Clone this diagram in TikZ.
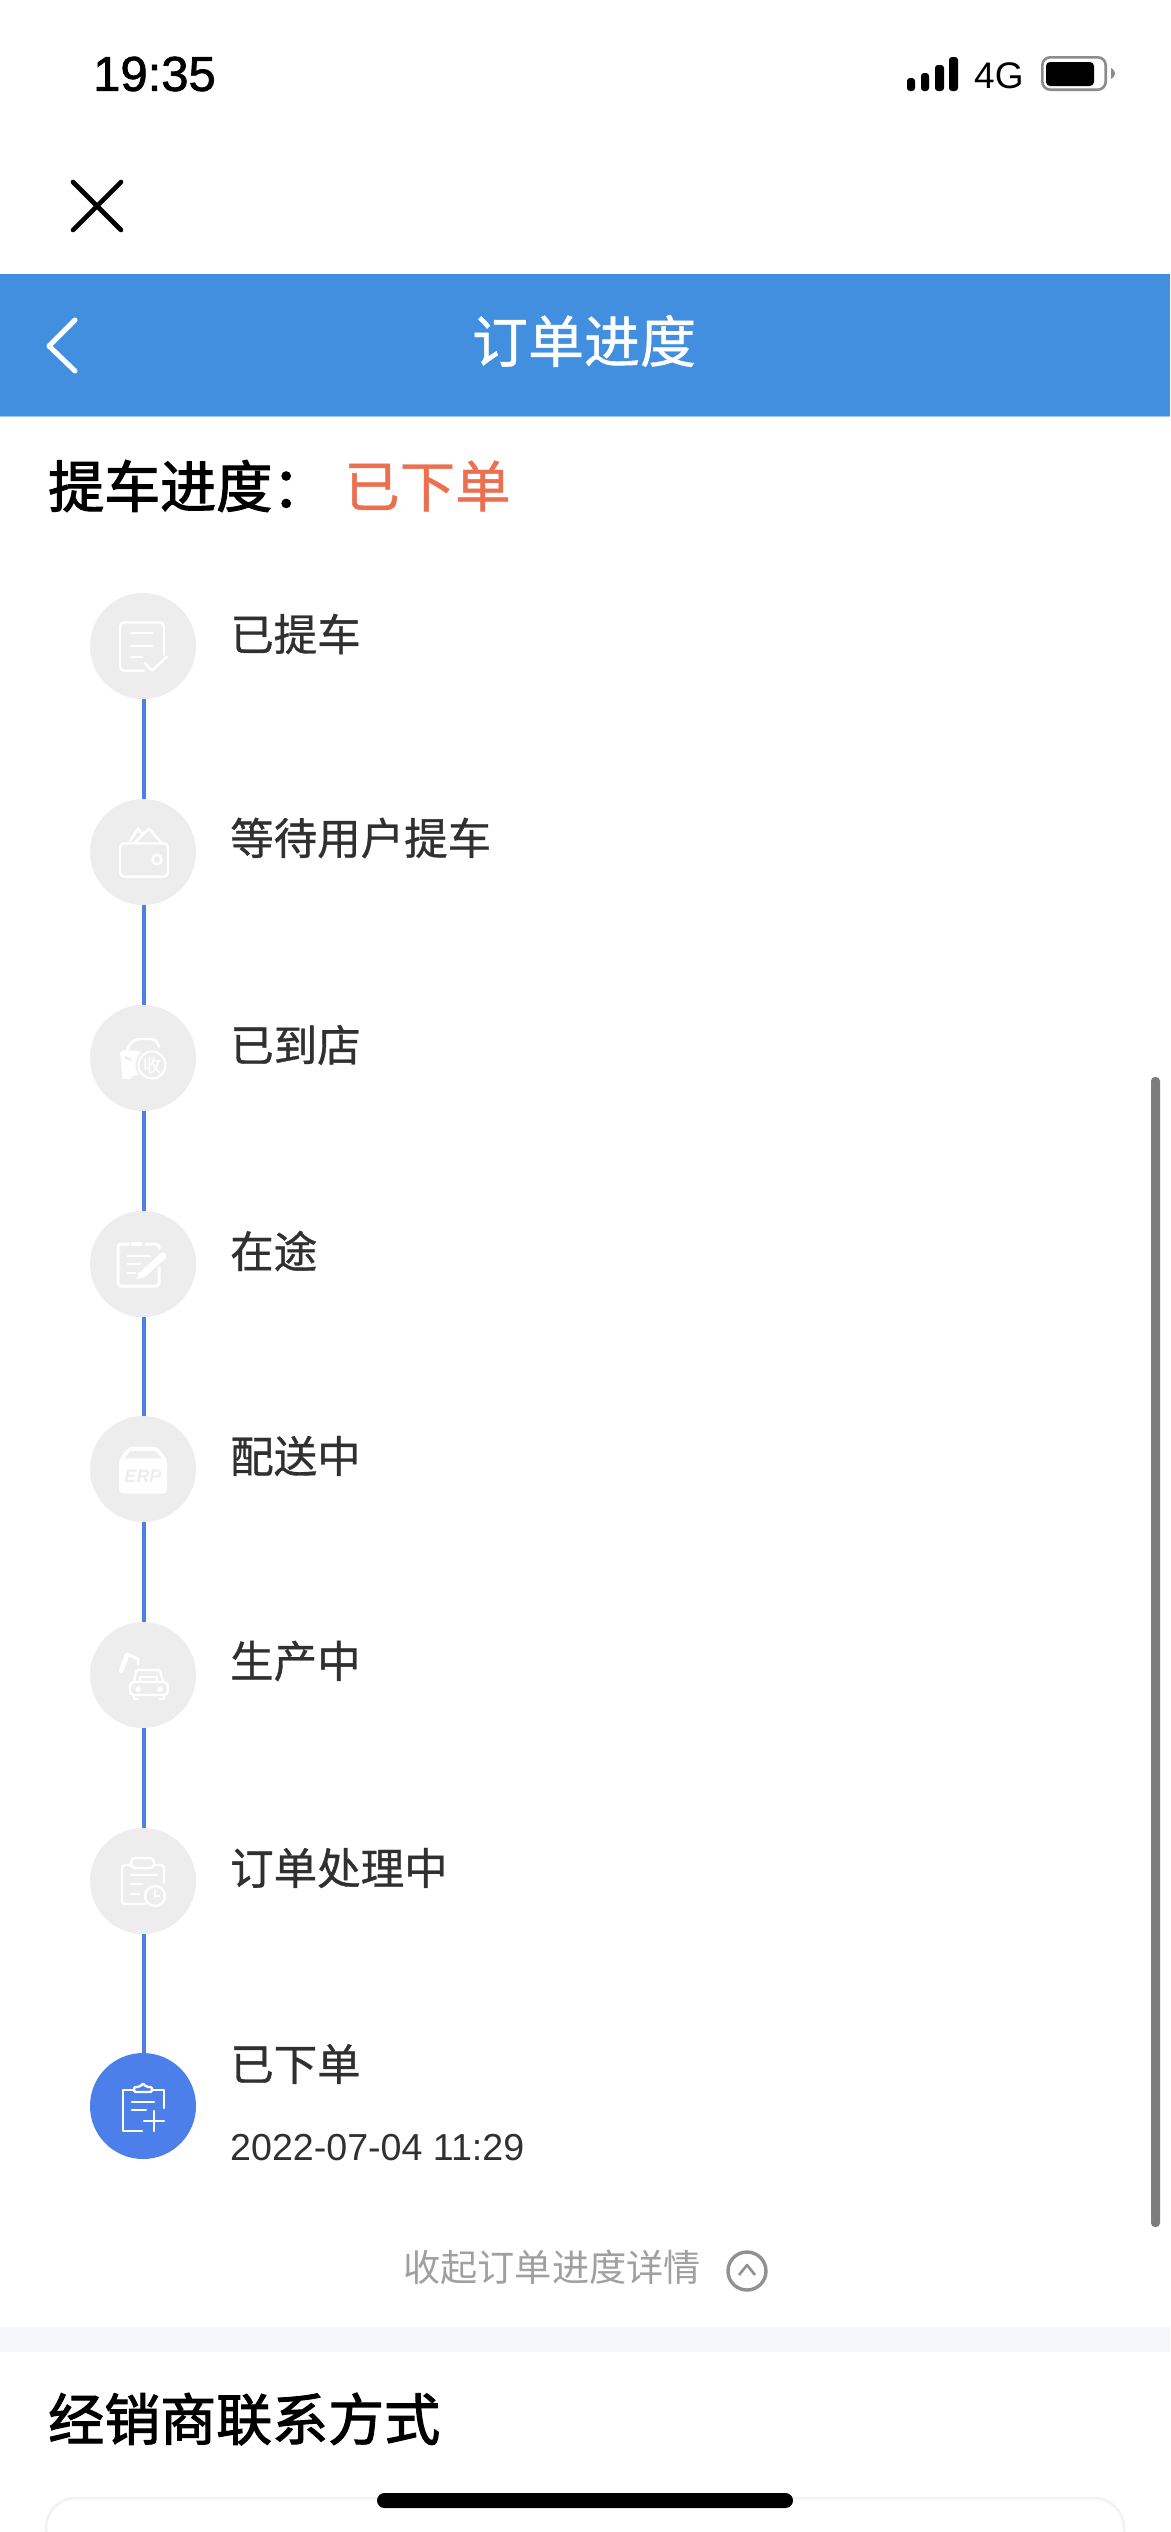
\documentclass[tikz,border=0pt]{standalone}
\usepackage{fontspec}
\setmainfont{Liberation Sans}
\newfontfamily\cjk{Noto Sans CJK SC}
\newfontfamily\cjkmed[FakeBold=0.8]{Noto Sans CJK SC}
\newfontfamily\cjkhead[FakeBold=2]{Noto Sans CJK SC}
\newfontfamily\latsemi[FakeBold=1.5]{Liberation Sans}
\definecolor{hdr}{HTML}{438FDF}
\definecolor{lineblue}{HTML}{4C7FEA}
\definecolor{stepgrey}{HTML}{EDEDED}
\definecolor{txt}{HTML}{303030}
\definecolor{orangered}{HTML}{EC6F50}
\definecolor{mutedgrey}{HTML}{A0A0A0}
\definecolor{band}{HTML}{F5F6FA}
\definecolor{cardline}{HTML}{F2F2F2}
\definecolor{scrollgrey}{HTML}{7D7D7D}
\tikzset{
  x=1pt,y=-1pt,
  stepdot/.style={circle,fill=stepgrey,minimum size=106pt,inner sep=0pt},
  stepactive/.style={circle,fill=lineblue,minimum size=106pt,inner sep=0pt},
  conn/.style={lineblue,line width=3.4pt},
  steplabel/.style={anchor=west,inner sep=0pt,text=txt,font=\fontsize{43.5}{44}\selectfont\cjkmed},
  iconline/.style={white,line width=2.4pt,line cap=round,line join=round,fill=none},
  heading/.style={anchor=west,inner sep=0pt,font=\fontsize{56}{56}\selectfont\cjkhead,text=black},
}
\begin{document}
\begin{tikzpicture}
\useasboundingbox (0,0) rectangle (1170,2532);
\fill[white] (0,0) rectangle (1170,2532);

% status bar
\node[anchor=west,inner sep=0pt,font=\fontsize{49}{49}\selectfont\latsemi] (time) at (93,74) {19:35};
\fill[black,rounded corners=3pt] (907,78) rectangle (915,91);
\fill[black,rounded corners=3pt] (921,73) rectangle (929,91);
\fill[black,rounded corners=3pt] (935,65) rectangle (944,91);
\fill[black,rounded corners=3pt] (949,57) rectangle (958,91);
\node[anchor=west,inner sep=0pt,font=\fontsize{37}{37}\selectfont] (net) at (974,75.5) {4G};
\draw[black!45,line width=2.6pt,rounded corners=8pt] (1042.3,57.3) rectangle (1105.7,89.7);
\fill[black,rounded corners=4pt] (1046,62) rectangle (1094,86);
\fill[black!45] (1111,68) .. controls (1114,70) and (1115,72) .. (1115,73.5) .. controls (1115,75) and (1114,77) .. (1111,79) -- cycle;

% close
\coordinate (xa) at (73,182); \coordinate (xb) at (121,230);
\coordinate (xc) at (121,182); \coordinate (xd) at (73,230);
\draw[black,line width=4.6pt,line cap=round] (xa) -- (xb) (xc) -- (xd);

% header
\fill[hdr] (0,274) rectangle (1170,416);
\draw[hdr!50,line width=1pt] (0,416.5) -- (1170,416.5);
\draw[white,line width=5pt,line cap=round,line join=round] (75,320) -- (49,346) -- (75,371);
\node[inner sep=0pt,text=white,font=\fontsize{56}{56}\selectfont\cjkmed] (title) at (584,341) {订单进度};

% heading
\node[heading] (ph) at (48,486) {提车进度：};
\node[anchor=west,inner sep=0pt,text=orangered,font=\fontsize{55.5}{56}\selectfont\cjkmed] (pv) at (344,486) {已下单};

% step circles
\node[stepdot] (s1) at (143,646) {};
\node[stepdot] (s2) at (143,852) {};
\node[stepdot] (s3) at (143,1058) {};
\node[stepdot] (s4) at (143,1264) {};
\node[stepdot] (s5) at (143,1469) {};
\node[stepdot] (s6) at (143,1675) {};
\node[stepdot] (s7) at (143,1881) {};
\node[stepactive] (s8) at (143,2106) {};
\foreach \a/\b in {s1/s2,s2/s3,s3/s4,s4/s5,s5/s6,s6/s7,s7/s8}{
  \draw[conn] ([xshift=1pt]\a.south) -- ([xshift=1pt]\b.north);
}

% labels
\node[steplabel] (l1) at (230,634) {已提车};
\node[steplabel] (l2) at (230,838) {等待用户提车};
\node[steplabel] (l3) at (230,1045) {已到店};
\node[steplabel] (l4) at (230,1251) {在途};
\node[steplabel] (l5) at (230,1456) {配送中};
\node[steplabel] (l6) at (230,1661) {生产中};
\node[steplabel] (l7) at (230,1868) {订单处理中};
\node[steplabel] (l8) at (230,2064) {已下单};
\node[anchor=west,inner sep=0pt,text=txt,font=\fontsize{37.6}{38}\selectfont] (d8) at (230,2148) {2022-07-04 11:29};

% icon 1: document with check
\begin{scope}[shift={(s1.center)},yscale=1.07]
  \draw[iconline,rounded corners=4pt] (21,8) -- (21,-22) -- (-23,-22) -- (-23,23) -- (1,23);
  \draw[iconline] (-12,-12) -- (9,-12) (-12,0) -- (9,0) (-12,10) -- (-1,10);
  \draw[iconline] (2,16) -- (9,23) -- (24,10);
\end{scope}

% icon 2: wallet
\begin{scope}[shift={(s2.center)},yscale=1.07]
  \draw[iconline,rounded corners=4pt] (-23,-8) rectangle (25,23);
  \draw[iconline] (-13,-10) -- (-5,-22) -- (0,-16);
  \draw[iconline] (-8,-9) -- (6,-22) -- (19,-8);
  \draw[iconline] (14,7) circle[radius=4.5pt];
\end{scope}

% icon 3: car with stamp
\begin{scope}[shift={(s3.center)}]
  \fill[white,rounded corners=2pt] (-23,-7) -- (-16,-8) -- (-2,-7) -- (-2,17) -- (-12,18) -- (-12,21) -- (-21,21) -- (-21,16) -- cycle;
  \fill[stepgrey] (-18,-2) -- (-11,1) -- (-11,3) -- (-18,1) -- cycle;
  \draw[iconline] (-16,-7) .. controls (-13,-16) and (-9,-19) .. (-3,-19) -- (8,-19) .. controls (13,-19) and (15,-15) .. (16,-11);
  \fill[stepgrey] (9,7) circle[radius=16.5pt];
  \draw[white,fill=stepgrey,line width=2.2pt] (9,7) circle[radius=13.5pt];
  \node[inner sep=0pt,text=white,font=\fontsize{18}{18}\selectfont\cjkmed] (st) at (9,7) {收};
\end{scope}

% icon 4: clipboard with pen
\begin{scope}[shift={(s4.center)}]
  \draw[iconline,line width=3pt,rounded corners=3pt] (-14,-20) -- (-25,-20) -- (-25,22) -- (16,22) -- (16,0);
  \draw[iconline,line width=3pt,rounded corners=3pt] (3,-20) -- (16,-20) -- (16,-15);
  \draw[iconline,line width=4pt] (-10,-20) -- (-2,-20);
  \draw[iconline] (-15,-8) -- (7,-8) (-15,0) -- (-3,0) (-15,9) -- (-8,9);
  \draw[stepgrey,line width=11pt] (-1,11) -- (21,-9);
  \draw[white,line width=7pt,line cap=round] (0,10) -- (20,-8);
  \fill[white] (-6,15) -- (-4,7) -- (2,13) -- cycle;
\end{scope}

% icon 5: ERP box
\begin{scope}[shift={(s5.center)},yscale=1.07]
  \fill[white,rounded corners=4pt] (-24,-9) -- (-14,-21) -- (14,-21) -- (24,-9) -- (24,23) -- (-24,23) -- cycle;
  \fill[stepgrey] (-19,-10) -- (-12,-17) -- (12,-17) -- (19,-10) -- cycle;
  \node[inner sep=0pt,text=stepgrey,font=\fontsize{18}{18}\selectfont\itshape\bfseries] (erp) at (0,7) {ERP};
\end{scope}

% icon 6: robot arm and car
\begin{scope}[shift={(s6.center)}]
  \draw[iconline,line width=4.5pt] (-22,-4) -- (-16,-20);
  \draw[iconline,line width=3pt] (-16,-21) -- (-5,-16) -- (-5,-11);
  \draw[iconline] (-9,7) -- (-7,-3) .. controls (-6.5,-5) and (-6,-5) .. (-4,-5) -- (14,-5) .. controls (16,-5) and (17,-5) .. (17.5,-3) -- (20,7);
  \draw[iconline,rounded corners=4pt] (-13,7) rectangle (25,20);
  \draw[iconline,line width=1.8pt] (-3,2) rectangle (14,7);
  \fill[white] (-5,14) circle[radius=2.8pt] (17,14) circle[radius=2.8pt];
  \draw[iconline] (-9,20) -- (-9,24) -- (-5,24) (21,20) -- (21,24) -- (17,24);
\end{scope}

% icon 7: clipboard with clock
\begin{scope}[shift={(s7.center)}]
  \draw[iconline,rounded corners=3pt] (-12,-16) -- (-21,-16) -- (-21,23) -- (2,23);
  \draw[iconline,rounded corners=3pt] (11,-16) -- (21,-16) -- (21,2);
  \draw[iconline,rounded corners=4pt] (-12,-23) rectangle (11,-13);
  \draw[iconline] (-12,-6) -- (14,-6) (-12,3) -- (-1,3) (-12,13) -- (-4,13);
  \draw[white,fill=stepgrey,line width=2.4pt] (12,15) circle[radius=10pt];
  \draw[white,line width=1.8pt] (12,9) -- (12,15) -- (17,15);
\end{scope}

% icon 8: clipboard plus (active)
\begin{scope}[shift={(s8.center)}]
  \draw[iconline] (-9,-16) -- (-20,-16) -- (-20,25) -- (-1,25);
  \draw[iconline] (9,-16) -- (21,-16) -- (21,2);
  \draw[iconline,rounded corners=2pt] (-9,-14) -- (-9,-19) -- (-3,-19) -- (0,-23) -- (3,-19) -- (9,-19) -- (9,-14) -- cycle;
  \draw[iconline] (-11,-4) -- (11,-4) (-11,4) -- (3,4);
  \draw[iconline] (1,15) -- (21,15) (11,5) -- (11,25);
\end{scope}

% collapse link
\node[anchor=west,inner sep=0pt,text=mutedgrey,font=\fontsize{37.2}{38}\selectfont\cjk] (col) at (403,2267) {收起订单进度详情};
\draw[scrollgrey!85,line width=3.4pt] (747,2271) circle[radius=19pt];
\draw[scrollgrey!85,line width=2.6pt,line join=round] (739,2275) -- (747,2265) -- (755,2275);

% scrollbar
\fill[scrollgrey,rounded corners=4pt] (1151,1077) rectangle (1160,2227);

% band and section
\fill[band] (0,2327) rectangle (1170,2352);
\node[heading] (sec) at (48,2419) {经销商联系方式};

% card and home indicator
\draw[cardline,line width=2.5pt,rounded corners=30pt] (46,2532) -- (46,2498) -- (1124,2498) -- (1124,2532);
\fill[black,rounded corners=7.5pt] (377,2493) rectangle (793,2508);
\end{tikzpicture}
\end{document}
